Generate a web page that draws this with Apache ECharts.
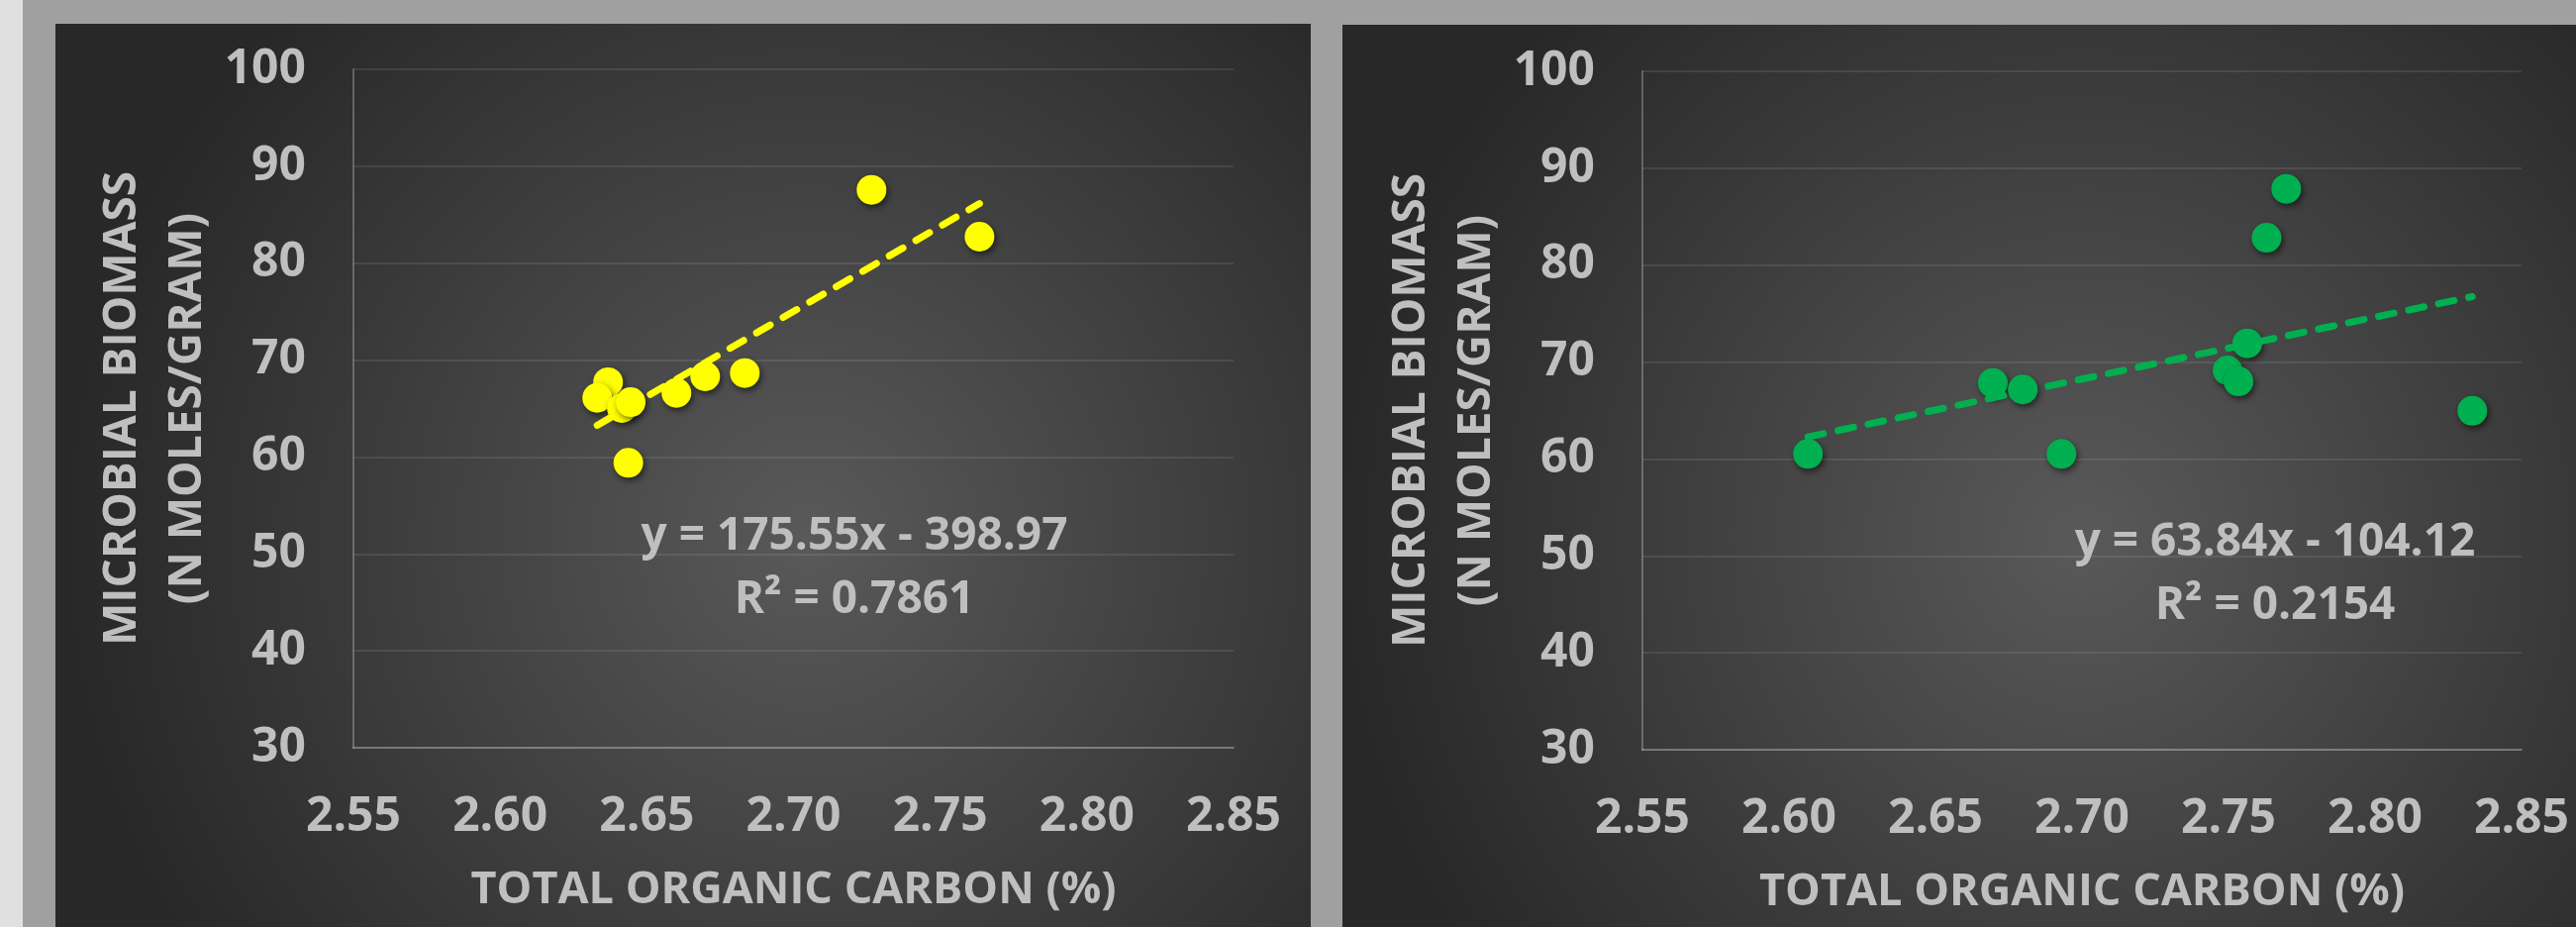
<!DOCTYPE html>
<html><head><meta charset="utf-8">
<script src="https://cdn.jsdelivr.net/npm/echarts@6/dist/echarts.min.js"></script>
<style>html,body{margin:0;padding:0;background:#a0a0a0;overflow:hidden}#c{width:2602px;height:936px}</style>
</head><body><div id="c"></div>
<script>
// ---- data ----
const xTicks = [2.55, 2.60, 2.65, 2.70, 2.75, 2.80, 2.85];
const yTicks = [30, 40, 50, 60, 70, 80, 90, 100];
const xTitle = 'TOTAL ORGANIC CARBON (%)';
const yTitle = 'MICROBIAL BIOMASS\n(N MOLES/GRAM)';

const tocLeft     = [2.6368, 2.6331, 2.6415, 2.6445, 2.6601, 2.6699, 2.6834, 2.6437, 2.7266, 2.7634];
const biomassLeft = [67.71, 66.10, 65.05, 65.66, 66.62, 68.32, 68.66, 59.40, 87.57, 82.73];
const trendLeft   = [175.55, -398.97, '0.7861'];   // slope, intercept, R²

const tocRight     = [2.6065, 2.6696, 2.6798, 2.6930, 2.7497, 2.7534, 2.7564, 2.7630, 2.7697, 2.8332];
const biomassRight = [60.52, 67.84, 67.17, 60.52, 69.14, 68.01, 71.93, 82.83, 87.87, 64.97];
const trendRight   = [63.84, -104.12, '0.2154'];

// ---- styling ----
const FONT = '"Open Sans", "Noto Sans", sans-serif';
const TXT = '#bfbfbf';

function zip(xs, ys) { return xs.map((x, i) => [x, ys[i]]); }
function trendData(xs, t) {
  const lo = Math.min(...xs), hi = Math.max(...xs);
  return [[lo, t[0] * lo + t[1]], [hi, t[0] * hi + t[1]]];
}
function eqText(t) {
  const sign = t[1] < 0 ? ' - ' : ' + ';
  return 'y = ' + t[0].toFixed(2) + 'x' + sign + Math.abs(t[1]).toFixed(2) + '\nR² = ' + t[2];
}

function xAxis(gi) {
  return {
    type: 'value', gridIndex: gi,
    min: xTicks[0], max: xTicks[xTicks.length - 1], interval: 0.05,
    name: xTitle, nameLocation: 'middle', nameGap: 122,
    nameTextStyle: { color: TXT, fontFamily: FONT, fontWeight: 'bold', fontSize: 45, lineHeight: 45 },
    axisLine: { show: true, onZero: false, lineStyle: { color: 'rgba(255,255,255,0.25)', width: 2 } },
    axisTick: { show: false },
    splitLine: { show: false },
    axisLabel: { color: TXT, fontFamily: FONT, fontWeight: 'bold', fontSize: 48, lineHeight: 48, margin: 46,
      formatter: v => v.toFixed(2) }
  };
}
function yAxis(gi) {
  return {
    type: 'value', gridIndex: gi,
    min: yTicks[0], max: yTicks[yTicks.length - 1], interval: 10,
    name: yTitle, nameLocation: 'middle', nameRotate: 90, nameGap: 132,
    nameTextStyle: { color: TXT, fontFamily: FONT, fontWeight: 'bold', fontSize: 46, lineHeight: 66, align: 'center' },
    axisLine: { show: true, lineStyle: { color: 'rgba(255,255,255,0.25)', width: 2 } },
    axisTick: { show: false },
    splitLine: { show: true, lineStyle: { color: 'rgba(255,255,255,0.09)', width: 2 } },
    axisLabel: { color: TXT, fontFamily: FONT, fontWeight: 'bold', fontSize: 48, margin: 48 }
  };
}

function panel(x, y, w, h) {
  return {
    type: 'rect', z: -10, silent: true,
    shape: { x: x, y: y, width: w, height: h },
    style: {
      fill: new echarts.graphic.RadialGradient(0.6, 0.57, 0.82, [
        { offset: 0, color: '#595959' },
        { offset: 1, color: '#282828' }
      ])
    }
  };
}

const markerStyle = (c) => ({ color: c, opacity: 1, shadowBlur: 6, shadowColor: 'rgba(0,0,0,0.55)', shadowOffsetX: 2, shadowOffsetY: 3 });

const chart = echarts.init(document.getElementById('c'), null, { renderer: 'canvas' });
chart.setOption({
  backgroundColor: '#a0a0a0',
  animation: false,
  graphic: [
    { type: 'rect', z: -10, silent: true, shape: { x: 0, y: 0, width: 23, height: 936 }, style: { fill: '#e0e0e0' } },
    panel(56, 24, 1268, 912),
    panel(1356, 25, 1246, 911),
    { type: 'text', z: 20, silent: true, x: 863, y: 574,
      style: { text: eqText(trendLeft), fill: TXT, font: 'bold 46px ' + FONT, align: 'center', verticalAlign: 'middle', lineHeight: 64 } },
    { type: 'text', z: 20, silent: true, x: 2298, y: 580,
      style: { text: eqText(trendRight), fill: TXT, font: 'bold 46px ' + FONT, align: 'center', verticalAlign: 'middle', lineHeight: 64 } }
  ],
  grid: [
    { left: 357, top: 70, width: 889, height: 685 },
    { left: 1659, top: 72, width: 888, height: 685 }
  ],
  xAxis: [xAxis(0), xAxis(1)],
  yAxis: [yAxis(0), yAxis(1)],
  series: [
    { type: 'scatter', xAxisIndex: 0, yAxisIndex: 0, data: zip(tocLeft, biomassLeft), symbolSize: 30,
      itemStyle: markerStyle('#ffff00') },
    { type: 'line', xAxisIndex: 0, yAxisIndex: 0, data: trendData(tocLeft, trendLeft), showSymbol: false, z: 3,
      lineStyle: { color: '#ffff00', width: 7, type: [16, 15], cap: 'round' } },
    { type: 'scatter', xAxisIndex: 1, yAxisIndex: 1, data: zip(tocRight, biomassRight), symbolSize: 30,
      itemStyle: markerStyle('#00b050') },
    { type: 'line', xAxisIndex: 1, yAxisIndex: 1, data: trendData(tocRight, trendRight), showSymbol: false, z: 3,
      lineStyle: { color: '#00b050', width: 7, type: [16, 15], cap: 'round' } }
  ]
});
</script>
</body></html>
